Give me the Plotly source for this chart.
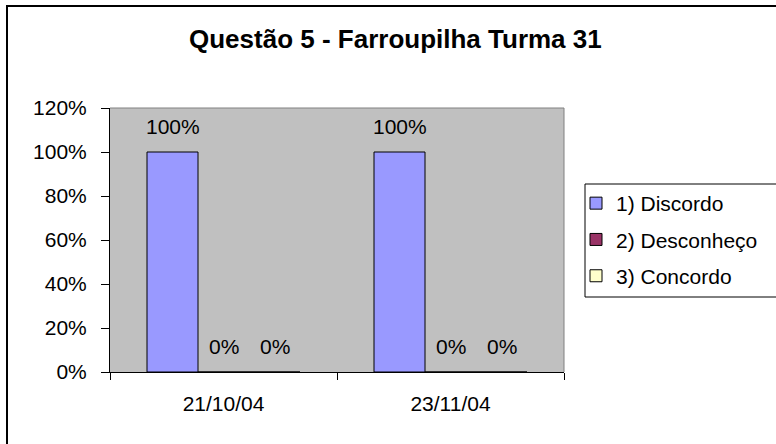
import plotly.graph_objects as go

# dados
datas = ['21/10/04', '23/11/04']
series = ['1) Discordo', '2) Desconheço', '3) Concordo']
valores = [
    [1.0, 1.0],
    [0.0, 0.0],
    [0.0, 0.0],
]
cores = ['#9999FF', '#993366', '#FFFFCC']

W, H = 776, 444
L, R, T, B = 110, 212, 108, 72
pw, ph = W - L - R, H - T - B
BAR_W = 51  # largura de cada barra em px (para os rotulos)

def px_x(x):
    return (x - L) / pw

def px_y(y):
    return (H - B - y) / ph

fonte = 'Liberation Sans, Arial'

data = []
for i, (nome, vals, cor) in enumerate(zip(series, valores, cores)):
    data.append(go.Bar(
        x=datas, y=vals, name=nome, legendgroup=nome,
        marker=dict(color=cor, line=dict(color='#000000', width=1)),
        hoverinfo='name+y',
    ))

# rotulos de dados acima de cada barra
rotulos = []
for i, vals in enumerate(valores):
    for d, v in zip(datas, vals):
        rotulos.append(dict(
            x=d, y=v, xref='x', yref='y', text=f'{v:.0%}', showarrow=False,
            xshift=(i - 1) * BAR_W, yshift=26, yanchor='middle',
            font=dict(size=21, family=fonte, color='#000000')))

layout = go.Layout(
    width=W, height=H,
    margin=dict(l=L, r=R, t=T, b=B),
    barmode='group',
    bargap=0.326,
    bargroupgap=0,
    plot_bgcolor='#C0C0C0',
    paper_bgcolor='#FFFFFF',
    font=dict(family=fonte, size=21, color='#000000'),
    xaxis=dict(showgrid=False, zeroline=False, showline=True, linecolor='#000000',
               linewidth=1, ticks='outside', ticklen=7, tickcolor='#000000',
               tickson='boundaries', tickfont=dict(size=21, family=fonte),
               ticklabelstandoff=13),
    yaxis=dict(range=[0, 1.2], dtick=0.2, tickformat='.0%', showgrid=False,
               zeroline=False, showline=True, linecolor='#000000', linewidth=1,
               ticks='outside', ticklen=8, tickcolor='#000000',
               tickfont=dict(size=21, family=fonte), ticklabelstandoff=10),
    showlegend=True,
    legend=dict(x=px_x(576), y=px_y(183), xanchor='left', yanchor='top',
                bgcolor='rgba(0,0,0,0)', borderwidth=0,
                font=dict(size=21, family=fonte),
                traceorder='grouped', tracegroupgap=6),
    shapes=[
        # borda externa do grafico
        dict(type='rect', xref='paper', yref='paper',
             x0=px_x(7), x1=px_x(W + 10), y0=px_y(H + 10), y1=px_y(6),
             line=dict(color='#000000', width=2), layer='below'),
        # borda da area de plotagem (cinza)
        dict(type='line', xref='paper', yref='paper', x0=0, x1=1, y0=1, y1=1,
             line=dict(color='#808080', width=1)),
        dict(type='line', xref='paper', yref='paper', x0=1, x1=1, y0=0, y1=1,
             line=dict(color='#808080', width=1)),
        # caixa da legenda
        dict(type='rect', xref='paper', yref='paper',
             x0=px_x(585), x1=px_x(W + 10), y0=px_y(297), y1=px_y(184),
             line=dict(color='#000000', width=1)),
    ],
    annotations=rotulos + [
        dict(x=px_x(395), y=px_y(39), xref='paper', yref='paper',
             xanchor='center', yanchor='middle',
             text='<b>Questão 5 - Farroupilha Turma 31</b>', showarrow=False,
             font=dict(size=26, family=fonte, color='#000000')),
    ],
)

fig = go.Figure(data=data, layout=layout)
fig.write_html('out.html', config={'displayModeBar': False},
               post_script="document.body.style.margin='0';")
